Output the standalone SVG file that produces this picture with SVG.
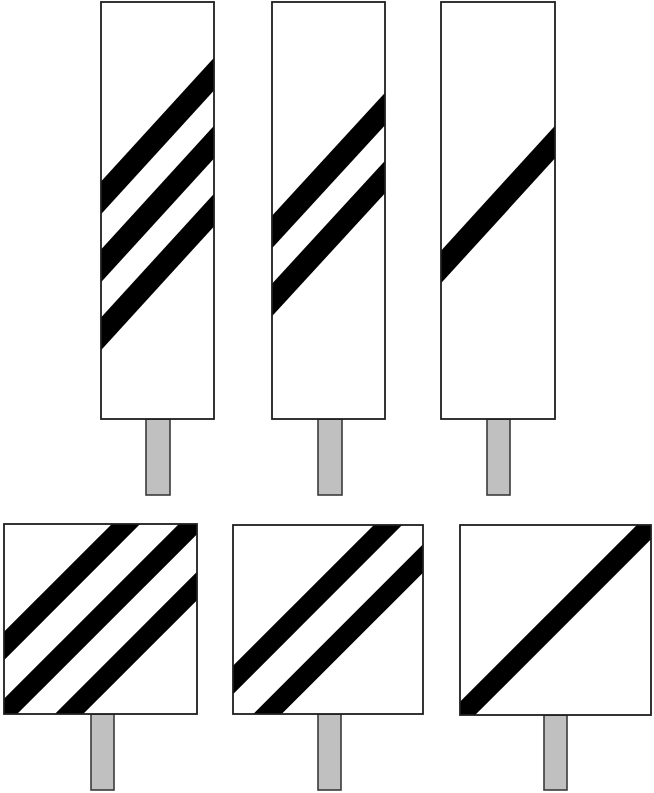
<svg xmlns="http://www.w3.org/2000/svg" width="654" height="793" viewBox="0 0 654 793">
  <style>
    .face { fill: #ffffff; }
    .post { fill: #c0c0c0; stroke: #3a3a3a; stroke-width: 1.6; }
    .stripe-v { stroke: #000000; stroke-width: 22; fill: none; }
    .stripe-s { stroke: #000000; stroke-width: 20; fill: none; }
    .frame { fill: none; stroke: #1e1e1e; stroke-width: 1.8; }
  </style>
  <defs>
    <clipPath id="c1"><rect x="101" y="2" width="113" height="417"/></clipPath>
    <clipPath id="c2"><rect x="272" y="2" width="113" height="417"/></clipPath>
    <clipPath id="c3"><rect x="441" y="2" width="114" height="417"/></clipPath>
    <clipPath id="c4"><rect x="4" y="524" width="193" height="190"/></clipPath>
    <clipPath id="c5"><rect x="233" y="525" width="190" height="189"/></clipPath>
    <clipPath id="c6"><rect x="460" y="525" width="191" height="190"/></clipPath>
  </defs>
  <rect width="654" height="793" fill="#ffffff"/>

  <g id="sign-tall-3">
    <rect class="post" x="146" y="419" width="24" height="76"/>
    <rect class="face" x="101" y="2" width="113" height="417"/>
    <g clip-path="url(#c1)">
      <line class="stripe-v" x1="90" y1="210" x2="225" y2="62"/>
      <line class="stripe-v" x1="90" y1="278" x2="225" y2="130"/>
      <line class="stripe-v" x1="90" y1="346" x2="225" y2="198"/>
    </g>
    <rect class="frame" x="101" y="2" width="113" height="417"/>
  </g>

  <g id="sign-tall-2">
    <rect class="post" x="318" y="419" width="24" height="76"/>
    <rect class="face" x="272" y="2" width="113" height="417"/>
    <g clip-path="url(#c2)">
      <line class="stripe-v" x1="261" y1="244" x2="396" y2="97"/>
      <line class="stripe-v" x1="261" y1="312" x2="396" y2="165"/>
    </g>
    <rect class="frame" x="272" y="2" width="113" height="417"/>
  </g>

  <g id="sign-tall-1">
    <rect class="post" x="487" y="419" width="23" height="76"/>
    <rect class="face" x="441" y="2" width="114" height="417"/>
    <g clip-path="url(#c3)">
      <line class="stripe-v" x1="430" y1="279" x2="566" y2="130"/>
    </g>
    <rect class="frame" x="441" y="2" width="114" height="417"/>
  </g>

  <g id="sign-square-3">
    <rect class="post" x="91" y="714" width="23" height="76"/>
    <rect class="face" x="4" y="524" width="193" height="190"/>
    <g clip-path="url(#c4)">
      <line class="stripe-s" x1="-20" y1="670" x2="220" y2="430"/>
      <line class="stripe-s" x1="-20" y1="737" x2="220" y2="497"/>
      <line class="stripe-s" x1="-20" y1="803" x2="220" y2="563"/>
    </g>
    <rect class="frame" x="4" y="524" width="193" height="190"/>
  </g>

  <g id="sign-square-2">
    <rect class="post" x="318" y="714" width="23" height="76"/>
    <rect class="face" x="233" y="525" width="190" height="189"/>
    <g clip-path="url(#c5)">
      <line class="stripe-s" x1="213" y1="700" x2="443" y2="470"/>
      <line class="stripe-s" x1="213" y1="768.5" x2="443" y2="538.5"/>
    </g>
    <rect class="frame" x="233" y="525" width="190" height="189"/>
  </g>

  <g id="sign-square-1">
    <rect class="post" x="544" y="715" width="23" height="75"/>
    <rect class="face" x="460" y="525" width="191" height="190"/>
    <g clip-path="url(#c6)">
      <line class="stripe-s" x1="440" y1="736" x2="671" y2="505"/>
    </g>
    <rect class="frame" x="460" y="525" width="191" height="190"/>
  </g>
</svg>
